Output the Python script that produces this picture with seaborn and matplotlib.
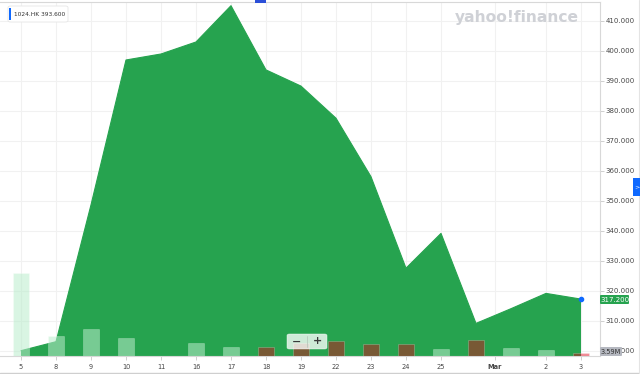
import numpy as np
import pandas as pd
import matplotlib
matplotlib.use("Agg")
import matplotlib.pyplot as plt
import seaborn as sns
from matplotlib.patches import FancyBboxPatch, Rectangle
from matplotlib.lines import Line2D

# ---- data (1024.HK, Feb 5 - Mar 3) ----
days = ["5", "8", "9", "10", "11", "16", "17", "18", "19", "22", "23", "24", "25", "26", "1", "2", "3"]
tick_labels = ["5", "8", "9", "10", "11", "16", "17", "18", "19", "22", "23", "24", "25", "2", "3"]
tick_days = ["5", "8", "9", "10", "11", "16", "17", "18", "19", "22", "23", "24", "25", "2", "3"]
price = [300.0, 303.0, 348.6, 396.9, 398.9, 402.9, 415.0, 393.6, 388.2, 377.5,
         358.0, 327.5, 339.1, 309.1, 314.0, 319.1, 317.2]
volume_m = [104.0, 25.0, 34.0, 22.5, 0.0, 16.6, 11.0, 11.0, 16.0, 19.0,
            15.4, 14.6, 8.4, 20.0, 9.6, 7.5, 3.59]
direction = ["up", "up", "up", "up", "up", "up", "up", "down", "down", "down",
             "down", "down", "up", "down", "up", "up", "down"]
y_ticks = [300, 310, 320, 330, 340, 350, 360, 370, 380, 390, 400, 410]

GREEN = "#26a34f"
UP_C = (186 / 255, 237 / 255, 204 / 255, 0.55)
DOWN_C = (222 / 255, 0.0, 22 / 255, 0.45)
BLUE = "#0f69ff"
TXT = "#464646"
GRID = "#f1f1f1"

sns.set_theme(style="white")
plt.rcParams["font.family"] = ["DejaVu Sans"]

W, H = 640, 374
fig = plt.figure(figsize=(6.4, 3.74), dpi=100)
fig.patch.set_facecolor("white")

def fx(x):
    return x / W

def fy(y):
    return 1 - y / H

ax = fig.add_axes([0, fy(356), 600 / W, 354 / H])
ax2 = ax.twinx()

idx = np.arange(len(days))
df = pd.DataFrame({"idx": idx, "price": price, "volume": volume_m, "dir": direction})

# price area
ax.fill_between(df["idx"], df["price"], 290, color=GREEN, lw=0, zorder=2)
sns.lineplot(data=df, x="idx", y="price", ax=ax, color=GREEN, lw=0.8, zorder=3)
ax.scatter([idx[-1]], [price[-1]], s=9, color=BLUE, zorder=5, clip_on=False)

# volume bars
sns.barplot(data=df, x="idx", y="volume", ax=ax2, native_scale=True,
            width=0.46, color="#88dda8", saturation=1, linewidth=0)
for p, d in zip(ax2.patches, direction):
    p.set_facecolor(UP_C if d == "up" else DOWN_C)
    p.set_edgecolor((1, 1, 1, 0.25))
    p.set_linewidth(0.6)
ax2.set_ylim(0, 354 * 1.25)
ax2.set_yticks([])
ax2.set_ylabel("")
for s in ax2.spines.values():
    s.set_visible(False)

# axes limits / ticks
ax.set_xlim(-0.6, 16.543)
ax.set_ylim(298.23, 416.23)
pos = [days.index(d) if d not in ("2", "3") else (15 if d == "2" else 16) for d in tick_days]
xt = pos[:13] + [13.54] + pos[13:]
xl = tick_labels[:13] + ["Mar"] + tick_labels[13:]
ax.set_xticks(xt)
ax.set_xticklabels(xl, fontsize=4.8, color=TXT)
for t in ax.get_xticklabels():
    if t.get_text() == "Mar":
        t.set_fontweight("bold")
ax.set_xlabel("")
ax.set_ylabel("")
ax.yaxis.tick_right()
ax.set_yticks(y_ticks)
ax.set_yticklabels([f"{v:.3f}" for v in y_ticks], fontsize=5.0, color=TXT)
ax.tick_params(axis="x", length=3, width=0.6, color="#c8c8c8", pad=2.5, bottom=True)
ax.tick_params(axis="y", length=3, width=0.6, color="#c8c8c8", pad=1, right=True, left=False)
ax.grid(True, color=GRID, lw=0.8, zorder=0)
ax.set_axisbelow(True)
for k, s in ax.spines.items():
    s.set_color("#d8d8d8")
    s.set_linewidth(0.8)
ax.spines["left"].set_visible(False)

# watermark
fig.text(fx(455), fy(22), "yahoo!finance", fontsize=11.2, fontweight="bold",
         color="#cfd1d6", va="baseline", ha="left")

# tooltip
fig.patches.append(FancyBboxPatch((fx(8), fy(22)), fx(60), 16 / H,
                                  boxstyle="round,pad=0,rounding_size=0.004",
                                  transform=fig.transFigure, fc="white",
                                  ec="#e6e6e6", lw=0.6, zorder=5))
fig.patches.append(Rectangle((fx(9), fy(20)), fx(2), 12 / H, transform=fig.transFigure,
                             fc=BLUE, ec="none", zorder=6))
fig.text(fx(14), fy(14), "1024.HK 393.600", fontsize=4.2, color="#333333",
         va="center", ha="left", zorder=7)

# top tab and right tab
fig.patches.append(Rectangle((fx(255), fy(3)), fx(11), 3 / H, transform=fig.transFigure,
                             fc="#2b4fd8", ec="none", zorder=6))
fig.patches.append(Rectangle((fx(633), fy(196)), fx(7), 18 / H, transform=fig.transFigure,
                             fc=BLUE, ec="none", zorder=6))
fig.text(fx(636.5), fy(187), ">", fontsize=4.5, color="white", va="center", ha="center", zorder=7)

# price label
fig.patches.append(FancyBboxPatch((fx(600), fy(304)), fx(29), 9 / H,
                                  boxstyle="round,pad=0,rounding_size=0.002",
                                  transform=fig.transFigure, fc=GREEN, ec="none", zorder=6))
fig.text(fx(614.5), fy(299.5), "317.200", fontsize=5.0, color="white",
         va="center", ha="center", zorder=7)

# volume label
fig.patches.append(FancyBboxPatch((fx(600), fy(356)), fx(22), 9 / H,
                                  boxstyle="round,pad=0,rounding_size=0.002",
                                  transform=fig.transFigure, fc="#b5b8c0", ec="none", zorder=6))
fig.text(fx(611), fy(351.5), "3.59M", fontsize=4.8, color="#333333",
         va="center", ha="center", zorder=7)

# zoom buttons
fig.patches.append(FancyBboxPatch((fx(287), fy(349)), fx(40), 15 / H,
                                  boxstyle="round,pad=0,rounding_size=0.004",
                                  transform=fig.transFigure, fc=(1, 1, 1, 0.78),
                                  ec=(1, 1, 1, 0.6), lw=0.5, zorder=6))
fig.lines.append(Line2D([fx(307), fx(307)], [fy(347), fy(336)], transform=fig.transFigure,
                        color="#b8c8bc", lw=0.6, zorder=7))
fig.text(fx(297), fy(341.5), "\u2212", fontsize=8, fontweight="bold", color="#3a3a3a",
         va="center", ha="center", zorder=7)
fig.text(fx(317), fy(341.5), "+", fontsize=8, fontweight="bold", color="#3a3a3a",
         va="center", ha="center", zorder=7)

# outer frame lines
fig.lines.append(Line2D([0, 1], [fy(372.5), fy(372.5)], transform=fig.transFigure,
                        color="#cfcfcf", lw=1.0))
fig.lines.append(Line2D([fx(638.5), fx(638.5)], [0, 1], transform=fig.transFigure,
                        color="#e4e4e4", lw=0.8))

fig.savefig("out.png", dpi=100)
